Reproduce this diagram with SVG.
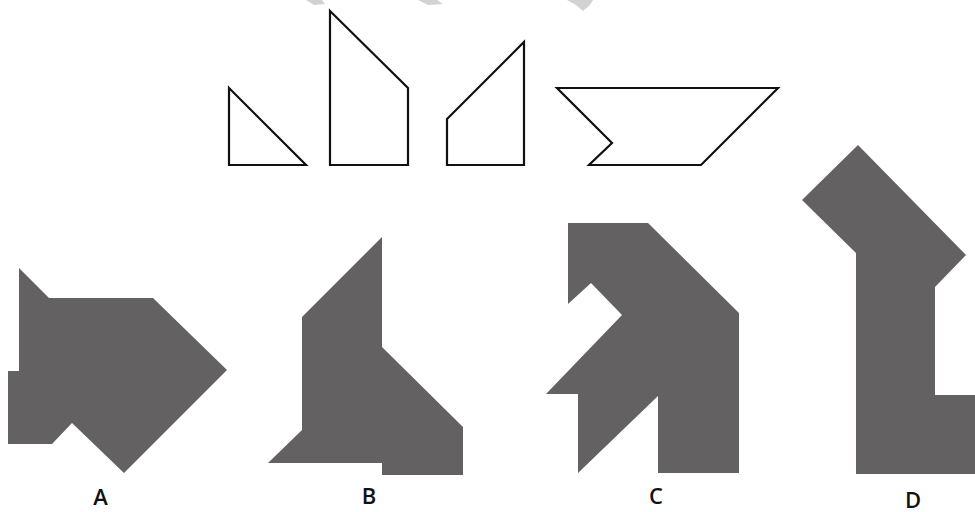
<svg xmlns="http://www.w3.org/2000/svg" width="975" height="512" viewBox="0 0 975 512">
<style>
.wm{fill:#d2d2d2}
.outline{fill:#ffffff;stroke:#111111;stroke-width:2.2;stroke-linejoin:miter}
.solid{fill:#646162}
.lbl{font-family:"Open Sans","Liberation Sans",sans-serif;font-size:22px;font-weight:600;fill:#111111;text-anchor:middle}
</style>
<rect width="975" height="512" fill="#ffffff"/>
<g id="watermark">
<polygon class="wm" points="306,0 322,0 325,4 314,5"/>
<polygon class="wm" points="418,0 437,0 443,4 428,5"/>
<polygon class="wm" points="567,0 593,0 590,5 583,11 576,5"/>
</g>
<g id="pieces">
<polygon id="piece1" class="outline" points="229,88 306,165 229,165"/>
<polygon id="piece2" class="outline" points="330,11 408,88 408,165 330,165"/>
<polygon id="piece3" class="outline" points="447,119 524,42 524,165 447,165"/>
<polygon id="piece4" class="outline" points="557,88 778,88 701,165 589,165 612,143"/>
</g>
<g id="optionA">
<polygon class="solid" points="19,268 49,298 153,298 227,370 124,473 72,423 52,444 8,444 8,371 19,371"/>
<text class="lbl" x="100.5" y="505">A</text>
</g>
<g id="optionB">
<polygon class="solid" points="382,237 382,347 463,427 463,475 382,475 382,463 268,463 302,430 302,317"/>
<text class="lbl" x="369" y="504">B</text>
</g>
<g id="optionC">
<polygon class="solid" points="568,223 648,223 739,313 739,473 658,473 658,396 578,473 578,394 546,394 622,315 591,283 568,304"/>
<text class="lbl" x="656" y="504">C</text>
</g>
<g id="optionD">
<polygon class="solid" points="858,145 966,255 935,287 935,395 975,395 975,474 856,474 856,253 802,200"/>
<text class="lbl" x="913" y="508">D</text>
</g>
</svg>
